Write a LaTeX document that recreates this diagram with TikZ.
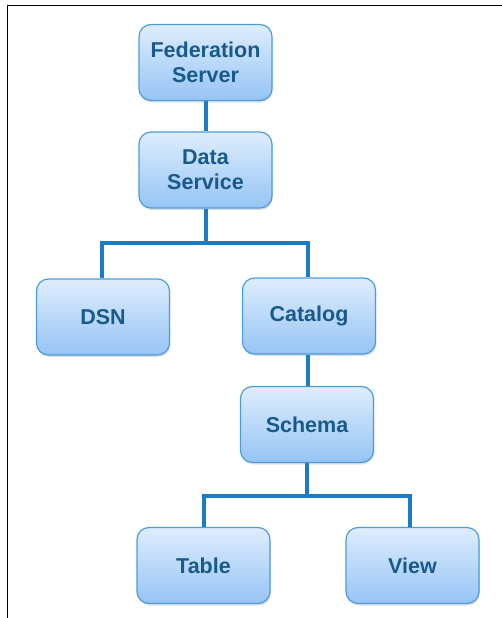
\documentclass[tikz,border=0pt]{standalone}
\usepackage{fontspec}
\setmainfont{Liberation Sans}
\usetikzlibrary{shadows}
\definecolor{boxtop}{HTML}{DEEDFD}
\definecolor{boxbot}{HTML}{96C4F5}
\definecolor{boxedge}{HTML}{4C9CDC}
\definecolor{boxtext}{HTML}{185A8C}
\definecolor{wire}{HTML}{1A7CC4}
\tikzset{
  entity/.style={draw=boxedge, line width=1.2pt, rounded corners=12pt,
    top color=boxtop, bottom color=boxbot,
    minimum width=133pt, minimum height=76pt, inner sep=0pt,
    align=center, text=boxtext, font=\fontsize{21.5}{25}\selectfont\bfseries,
    drop shadow={opacity=0.25, shadow xshift=0.8pt, shadow yshift=-2pt}},
  link/.style={draw=wire, line width=4pt}
}
\begin{document}
\begin{tikzpicture}[x=1pt, y=-1pt]
  \useasboundingbox (0,0) rectangle (502,618);
  % frame
  \draw[line width=1.8pt] (7.5,618) -- (7.5,5.5) -- (502,5.5);

  % hierarchy nodes
  \node[entity] (fed)  at (205.5, 62.5) {Federation\\Server};
  \node[entity] (data) at (205.5,170)   {Data\\Service};
  \node[entity] (dsn)  at (103,317)     {DSN};
  \node[entity] (cat)  at (309,316)     {Catalog};
  \node[entity] (sch)  at (307,424.5)   {Schema};
  \node[entity] (tab)  at (203.5,565.5) {Table};
  \node[entity] (view) at (412.5,565.5) {View};

  % bus levels
  \coordinate (busA) at (0,243);
  \coordinate (busB) at (0,496);

  % connectors
  \draw[link] (fed.south) -- (data.north);
  \draw[link] (data.south) -- (data.south |- busA) -| ([xshift=-1.3pt]dsn.north);
  \draw[link] (data.south |- busA) -| ([xshift=-1pt]cat.north);
  \draw[link] ([xshift=-1pt]cat.south) -- ([xshift=-1pt]cat.south |- sch.north);
  \draw[link] (sch.south) -- (sch.south |- busB) -| ([xshift=0.5pt]tab.north);
  \draw[link] (sch.south |- busB) -| ([xshift=-2.5pt]view.north);
\end{tikzpicture}
\end{document}
